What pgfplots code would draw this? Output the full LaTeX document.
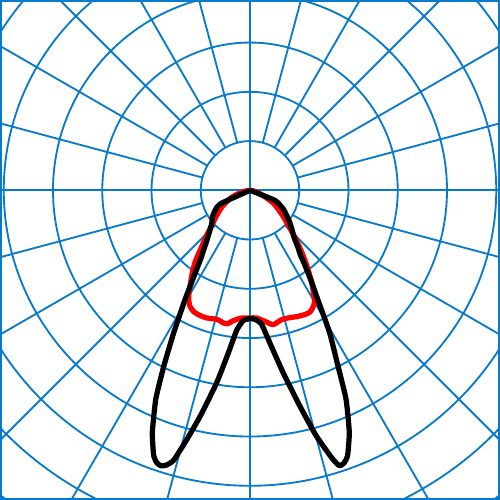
\documentclass[border=0pt]{standalone}
\usepackage{pgfplots}
\pgfplotsset{compat=1.18}
\definecolor{gridblue}{RGB}{8,122,204}

% polar diagram, angle in degrees (270 = straight down), radius in px of the
% 500 px picture; one grid ring is 49.5 px
\begin{document}
\begin{tikzpicture}
\begin{axis}[
    x=0.02cm, y=0.02cm,
    xmin=-250, xmax=250,
    ymin=-310, ymax=190,
    ticks=none,
    axis line style={gridblue, line width=1.4pt},
    clip=true,
]

% grid: rings and radial lines every 15 degrees
\pgfplotsinvokeforeach{1,...,9}{
    \draw[gridblue, line width=1.05pt] (axis cs:0,0) circle[radius=#1*0.99cm];
}
\pgfplotsinvokeforeach{0,15,...,345}{
    \draw[gridblue, line width=1.05pt]
        (axis cs:{49.5*cos(#1)},{49.5*sin(#1)}) -- (axis cs:{700*cos(#1)},{700*sin(#1)});
}
\draw[gridblue, line width=1.05pt] (axis cs:-300,0) -- (axis cs:300,0);
\draw[gridblue, line width=1.05pt] (axis cs:0,-400) -- (axis cs:0,300);

% red curve
\addplot[red, line width=3pt, line join=round, smooth, tension=0.4, data cs=polar] coordinates {
    (180,0) (190,6) (198,15) (202.5,21.7) (210,32) (216.9,41.6)
    (222,51) (226.1,62.5) (229.5,75) (232.5,90.4) (235,101) (237.7,112.4)
    (239.5,121) (240.7,126) (242.5,131) (245,134.3) (248,135.5) (251.4,135.4)
    (255,134) (257,134.5) (258.7,136) (260.5,136) (262.1,133) (264.5,130)
    (266.3,128.6) (270,128.3)
    (273,128.5) (276.5,132.5) (279.8,137) (283.7,133.8) (287,134) (290.9,135.6)
    (294,136.5) (296,136.5) (298,134) (300.2,129.2) (302,120) (304,110.5)
    (307,95) (310,80.5) (313.5,66) (317.6,52) (322,42) (328,31.5)
    (332,25) (336,17) (342,10) (350,4) (360,0)
};

% black curve
\addplot[black, line width=3pt, line join=round, smooth, tension=0.3, data cs=polar] coordinates {
    (200,0) (204.5,33) (209.5,40) (215,46) (220,50) (222.5,53)
    (225,57) (227.5,62) (230,68.5) (232.5,77) (234.5,86) (237,104)
    (239.2,127) (241.8,162) (243.9,197) (245.7,230) (248,262) (249.5,278)
    (250.1,284) (251,289) (252,291) (253,289) (254.2,282) (255.8,258)
    (257.6,232) (260.2,196) (262.4,165) (264.6,141) (267.1,131) (270,129)
    (272.5,130) (275,135.5) (277.4,154.6) (280.3,186.3) (283,222.4) (285.1,255.6)
    (287.1,282.6) (288,291) (289,290) (290.2,284) (292.3,263) (294.7,231)
    (296.6,197.5) (299.2,164) (301.8,129.5) (304,110) (306.3,93) (308,82)
    (310,75) (313,65) (317.4,57) (322,50) (326,44) (331,38)
    (338,27) (340,0)
};
\end{axis}
\end{tikzpicture}
\end{document}
